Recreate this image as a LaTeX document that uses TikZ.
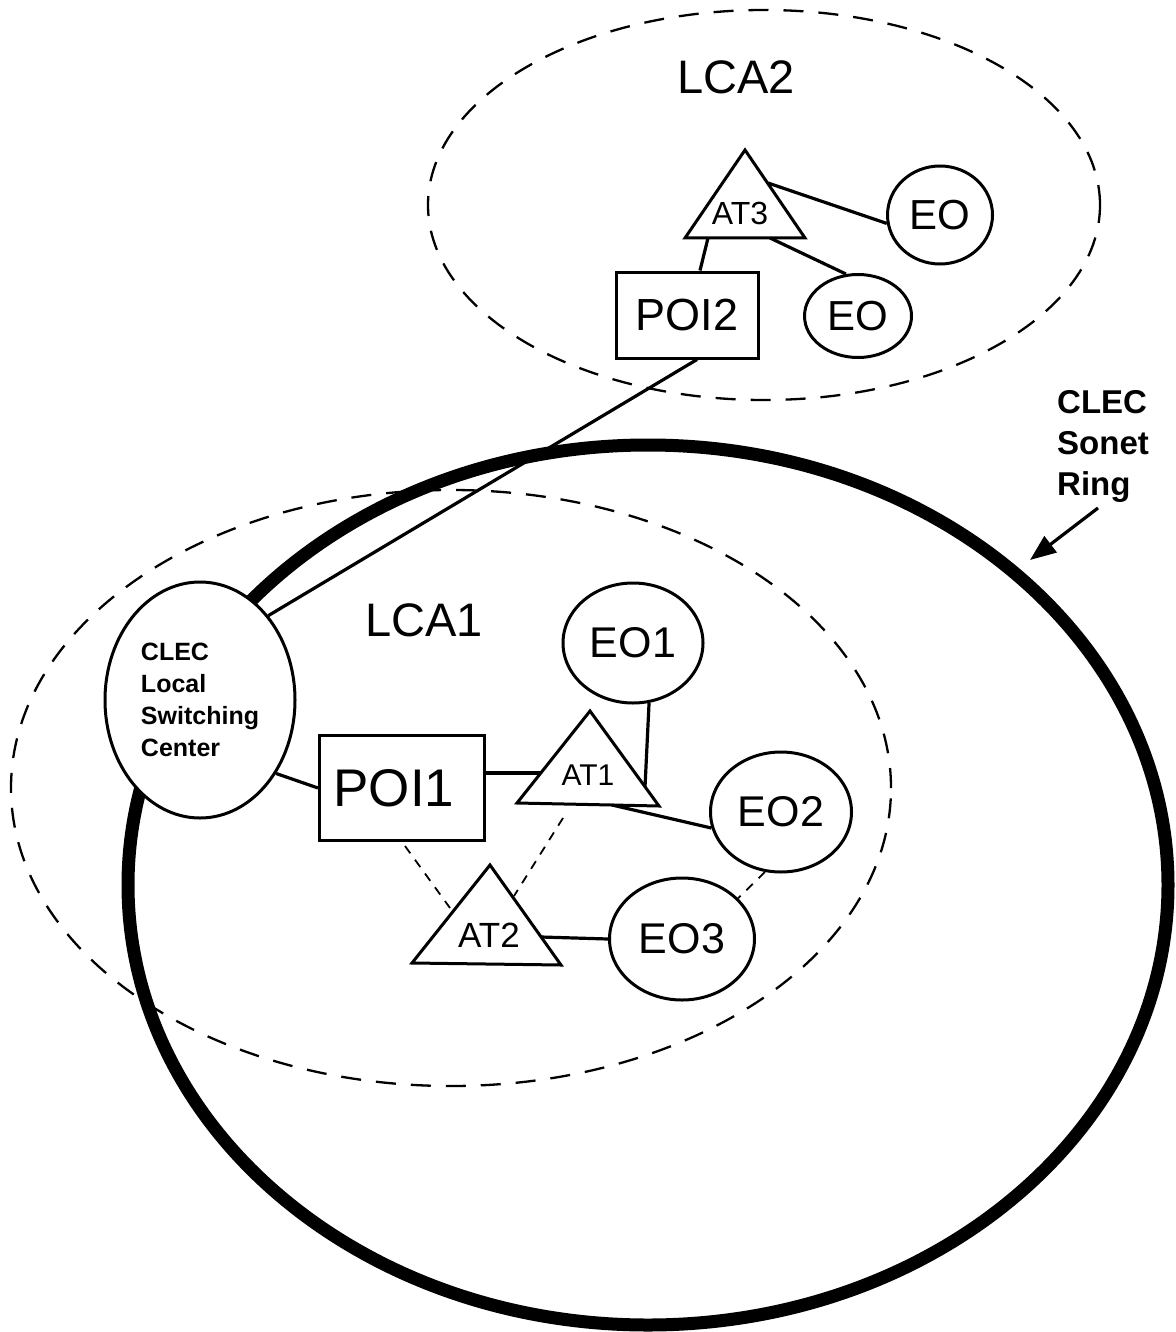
\documentclass[tikz,border=0pt]{standalone}
\usepackage{fontspec}
\setmainfont{Liberation Sans}
\usetikzlibrary{shapes.geometric,arrows.meta,calc}
\begin{document}
\begin{tikzpicture}[x=1pt,y=-1pt,
  eo/.style={draw,ellipse,line width=3pt,fill=white,inner sep=0pt},
  box/.style={draw,rectangle,line width=3pt,fill=white,inner sep=0pt},
  tri/.style={draw,line width=3pt,fill=white,line join=miter},
  wire/.style={line width=3.2pt},
  dwire/.style={line width=1.8pt,dash pattern=on 9pt off 8pt},
  lca/.style={line width=2.3pt,dash pattern=on 20pt off 15pt},
  ring/.style={line width=13pt},
  lbl/.style={inner sep=0pt},
]
\useasboundingbox (0,0) rectangle (1175,1332);
% LCA areas
\draw[lca] (764,205) ellipse [x radius=336pt, y radius=195pt];
\draw[lca] (451,788) ellipse [x radius=440pt, y radius=298pt];
% Sonet ring
\draw[ring] (648,885) ellipse [x radius=520pt, y radius=440pt];
% area labels
\node[lbl,font=\fontsize{47}{50}\selectfont] (lca2) at (736,77) {LCA2};
\node[lbl,font=\fontsize{47}{50}\selectfont] (lca1) at (424,620) {LCA1};
\node[lbl,anchor=north west,align=left,font=\fontsize{33}{41}\selectfont\bfseries] (sonet) at (1057,390) {CLEC\\Sonet\\Ring};
% nodes
\node[eo,minimum width=190pt,minimum height=236pt,align=left,font=\fontsize{25}{32}\selectfont\bfseries] (clec) at (200,700) {CLEC\\Local\\Switching\\Center};
\node[box,minimum width=165pt,minimum height=105pt,font=\fontsize{53}{56}\selectfont] (poi1) at (402,788) {POI1\hspace*{16pt}};
\node[box,minimum width=142pt,minimum height=86pt,font=\fontsize{45}{48}\selectfont] (poi2) at (687,315) {POI2};
\node[eo,minimum width=140pt,minimum height=120pt,font=\fontsize{43}{46}\selectfont] (eo1) at (633,643) {EO1};
\node[eo,minimum width=141pt,minimum height=120pt,font=\fontsize{43}{46}\selectfont] (eo2) at (781,812) {EO2};
\node[eo,minimum width=145pt,minimum height=122pt,font=\fontsize{43}{46}\selectfont] (eo3) at (682,939) {EO3};
\node[eo,minimum width=105pt,minimum height=98pt,font=\fontsize{42}{45}\selectfont] (eoa) at (940,215) {EO};
\node[eo,minimum width=107pt,minimum height=83pt,font=\fontsize{42}{45}\selectfont] (eob) at (858,316) {EO};
% triangles
\draw[tri] (590,711) -- (659,806) -- (517,803) -- cycle;
\node[lbl,font=\fontsize{30}{32}\selectfont] (at1) at (588,775) {AT1};
\draw[tri] (490,865) -- (561,965) -- (412,963) -- cycle;
\node[lbl,font=\fontsize{35}{38}\selectfont] (at2) at (489,935) {AT2};
\draw[tri] (745,150) -- (805,238) -- (685,238) -- cycle;
\node[lbl,font=\fontsize{32}{34}\selectfont] (at3) at (740,213) {AT3};
% connection points on triangles
\coordinate (at1l) at (541,773);
\coordinate (at1r) at (645,787);
\coordinate (at1b) at (612,805);
\coordinate (at1d) at (563,818);
\coordinate (at2r) at (541,937);
\coordinate (at2l) at (450,908);
\coordinate (at2d) at (514,896);
\coordinate (at3r) at (768,183);
\coordinate (at3b) at (770,238);
\coordinate (at3p) at (708,238);
% connectors
\draw[wire] (clec.51) -- ($(poi2.south)+(10,0)$);
\draw[wire] (clec.-44) -- (poi1.west);
\draw[wire] ($(poi1.east)+(0,-15)$) -- (at1l);
\draw[wire] (at1r) -- (eo1.-75);
\draw[wire] (at1b) -- (eo2.193);
\draw[wire] (at2r) -- (eo3.west);
\draw[wire] (at3r) -- (eoa.189);
\draw[wire] (at3b) -- (eob.106);
\draw[wire] (at3p) -- ($(poi2.north)+(13,0)$);
\draw[dwire] ($(poi1.south)+(3,4)$) -- (at2l);
\draw[dwire] (at1d) -- (at2d);
\draw[dwire] (eo2.-105) -- (eo3.36);
% ring pointer
\coordinate (arrstart) at (1098,508);
\coordinate (ringpt) at (1030,560);
\draw[line width=3.2pt,-{Triangle[length=26pt,width=20pt]}] (arrstart) -- (ringpt);
\end{tikzpicture}
\end{document}
